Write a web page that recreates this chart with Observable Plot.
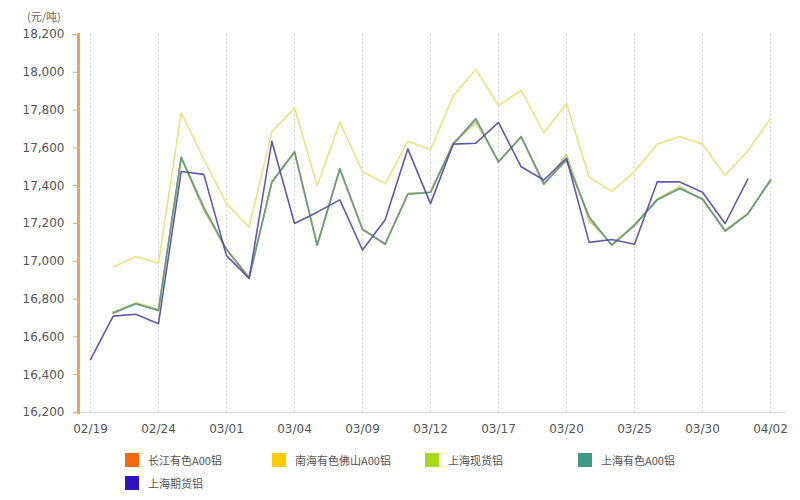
<!DOCTYPE html>
<html>
<head>
<meta charset="utf-8">
<script src="https://cdn.jsdelivr.net/npm/d3@7"></script>
<script src="https://cdn.jsdelivr.net/npm/@observablehq/plot@0.6"></script>
<style>
  body { margin: 0; background: #fff; font-family: "DejaVu Sans", Verdana, sans-serif; }
  #wrap { position: relative; width: 800px; height: 500px; overflow: hidden; }
  #unit { position: absolute; left: 27px; top: 8px; font-size: 11px; color: #666; font-family: "Noto Sans CJK SC", sans-serif; }
  .leg { position: absolute; display: flex; align-items: center; font-size: 11px; color: #555; font-family: "Noto Sans CJK SC", sans-serif; }
  .leg span.sw { display: inline-block; width: 14px; height: 14px; margin-right: 9px; }
</style>
</head>
<body>
<div id="wrap">
  <div id="chart"></div>
  <div id="unit">(元/吨)</div>
  <div id="legend"></div>
</div>
<script>
// Tick labels (every third trading day)
const tickLabels = ["02/19","02/24","03/01","03/04","03/09","03/12","03/17","03/20","03/25","03/30","04/02"];

// Series names and colours
const seriesNames = ["长江有色A00铝","南海有色佛山A00铝","上海现货铝","上海有色A00铝","上海期货铝"];
const legendColors = ["#f26a10","#ffcc00","#a6d916","#3d9a84","#2f14c4"];
const lineColors = ["#e8a868","#ece07c","#bcd066","#5e9a88","#5a50a6"];

// Values (元/吨), 31 points each; null = no data
const changjiang = [null,16730,16775,16740,17550,17280,17060,16912,17420,17580,17085,17490,17170,17090,17355,17365,17620,17750,17525,17660,17410,17540,17230,17085,17190,17325,17385,17330,17160,17250,17430];
const nanhai = [null,16970,17025,16990,17785,17540,17305,17180,17685,17812,17400,17735,17475,17410,17635,17590,17875,18015,17825,17905,17680,17835,17445,17370,17475,17620,17660,17620,17455,17585,17755];
const shanghaiSpot = [null,16730,16780,16745,17545,17270,17060,16915,17415,17575,17090,17485,17165,17095,17360,17365,17625,17735,17530,17655,17405,17565,17215,17090,17195,17330,17395,17325,17165,17255,17425];
const shanghaiYS = [null,16725,16775,16740,17550,17285,17065,16912,17420,17580,17085,17490,17170,17090,17355,17365,17620,17755,17525,17660,17410,17535,17235,17085,17190,17325,17385,17330,17160,17250,17430];
const shanghaiFut = [16480,16710,16720,16670,17475,17460,17030,16910,17635,17200,17260,17325,17060,17220,17595,17305,17620,17625,17735,17500,17430,17545,17100,17115,17090,17420,17420,17365,17200,17435,null];

const allSeries = [changjiang, nanhai, shanghaiSpot, shanghaiYS, shanghaiFut];
const drawOrder = [0, 2, 1, 3, 4];

const idx = d3.range(changjiang.length);
const tickIdx = tickLabels.map((_, k) => k * 3);
const yTicks = d3.range(16200, 18201, 200);

const marks = [
  Plot.ruleX(tickIdx, {x: d => d, y1: 16200, y2: 18200, stroke: "#d8d8d8", strokeDasharray: "2,2", strokeWidth: 1}),
  Plot.frame({anchor: "bottom", stroke: "#dcdcdc", strokeWidth: 1}),
  Plot.axisY(yTicks, {anchor: "left", tickSize: 5, tickPadding: 9, stroke: "#f0a060", fill: "#555", fontSize: 12, tickFormat: d3.format(","), label: null}),
  Plot.axisX(tickIdx, {anchor: "bottom", tickSize: 0, tickPadding: 12, fill: "#555", fontSize: 12, tickFormat: i => tickLabels[i / 3], label: null}),
  ...drawOrder.map(s => Plot.line(idx, {
    x: i => i,
    y: i => allSeries[s][i],
    stroke: lineColors[s],
    strokeWidth: 1.6,
    strokeOpacity: 0.95
  })),
  Plot.frame({anchor: "left", stroke: "#f0a060", strokeWidth: 3})
];

const chart = Plot.plot({
  width: 800,
  height: 445,
  marginLeft: 78,
  marginRight: 15,
  marginTop: 34,
  marginBottom: 33,
  style: {fontFamily: "DejaVu Sans, Verdana, sans-serif", background: "#fff"},
  x: {type: "linear", domain: [0, 30], range: [90, 770]},
  y: {domain: [16200, 18200]},
  marks
});
document.getElementById("chart").appendChild(chart);

// Legend
const legendPos = [[125, 452], [272, 452], [425, 452], [578, 452], [125, 475]];
const legend = document.getElementById("legend");
seriesNames.forEach((name, k) => {
  const d = document.createElement("div");
  d.className = "leg";
  d.style.left = legendPos[k][0] + "px";
  d.style.top = legendPos[k][1] + "px";
  const sw = document.createElement("span");
  sw.className = "sw";
  sw.style.background = legendColors[k];
  d.appendChild(sw);
  d.appendChild(document.createTextNode(name));
  legend.appendChild(d);
});
</script>
</body>
</html>
